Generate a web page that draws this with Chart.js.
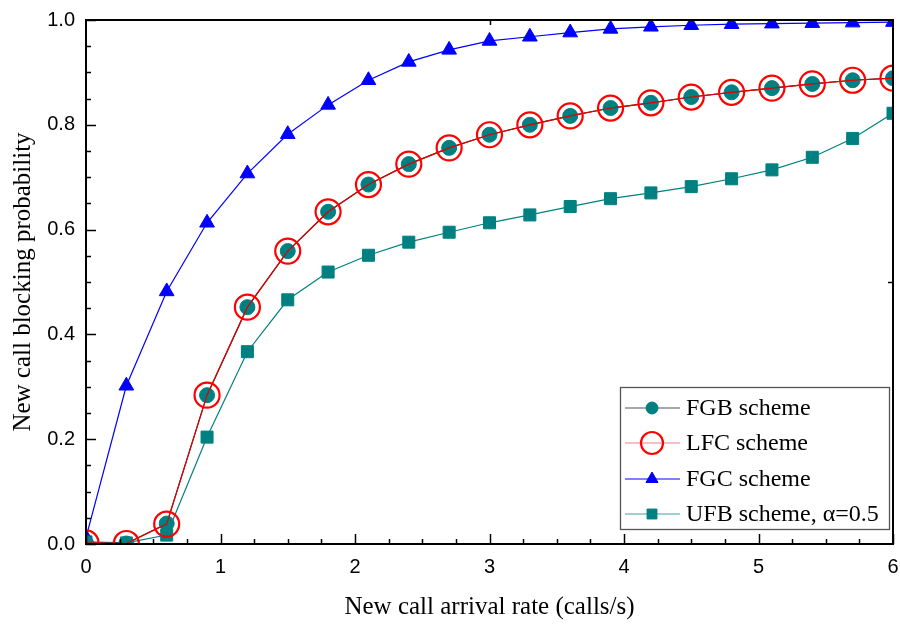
<!DOCTYPE html>
<html>
<head>
<meta charset="utf-8">
<script src="https://cdn.jsdelivr.net/npm/chart.js@4.4.1/dist/chart.umd.min.js"></script>
<style>
  html, body { margin: 0; padding: 0; background: #ffffff; }
  #wrap { width: 900px; height: 624px; position: relative; }
</style>
</head>
<body>
<div id="wrap"><canvas id="c" width="900" height="624"></canvas></div>
<script>
// ---- data ----
const arrivalRates = [0, 0.3, 0.6, 0.9, 1.2, 1.5, 1.8, 2.1, 2.4, 2.7, 3.0, 3.3, 3.6, 3.9, 4.2, 4.5, 4.8, 5.1, 5.4, 5.7, 6.0];
const fgbValues = [0.002, 0.001, 0.039, 0.284, 0.452, 0.559, 0.634, 0.686, 0.725, 0.756, 0.781, 0.800, 0.817, 0.832, 0.842, 0.853, 0.862, 0.870, 0.878, 0.885, 0.889];
const lfcValues = [0.002, 0.001, 0.038, 0.284, 0.452, 0.559, 0.634, 0.686, 0.725, 0.756, 0.781, 0.800, 0.817, 0.832, 0.842, 0.853, 0.862, 0.870, 0.878, 0.885, 0.889];
const fgcValues = [0.012, 0.302, 0.482, 0.613, 0.707, 0.782, 0.838, 0.885, 0.920, 0.943, 0.960, 0.968, 0.976, 0.983, 0.987, 0.990, 0.992, 0.993, 0.994, 0.995, 0.996];
const ufbValues = [0.004, 0.002, 0.017, 0.204, 0.367, 0.466, 0.519, 0.551, 0.576, 0.595, 0.613, 0.628, 0.644, 0.659, 0.670, 0.682, 0.697, 0.714, 0.738, 0.774, 0.822];
const xTickValues = [0, 1, 2, 3, 4, 5, 6];
const yTickValues = [0.0, 0.2, 0.4, 0.6, 0.8, 1.0];
const seriesNames = ['FGB scheme', 'LFC scheme', 'FGC scheme', 'UFB scheme, \u03b1=0.5'];
const xTitle = 'New call arrival rate (calls/s)';
const yTitle = 'New call blocking probability';

const toPts = (vals) => arrivalRates.map((x, i) => ({ x: x, y: vals[i] }));

const TEAL = '#008080';
const SERIF = '"Liberation Serif", "Times New Roman", serif';
const SANS = '"Liberation Sans", Arial, sans-serif';

// frame + inward ticks
const framePlugin = {
  id: 'frame',
  afterDatasetsDraw(chart) {
    const { ctx, chartArea: a, scales: { x, y } } = chart;
    ctx.save();
    ctx.strokeStyle = '#000';
    ctx.lineWidth = 1.5;
    for (let v = 0; v <= 6.0001; v += 0.25) {
      const px = Math.round(x.getPixelForValue(v)) + 0.5;
      const major = Math.abs(v - Math.round(v)) < 1e-6;
      ctx.beginPath();
      ctx.moveTo(px, a.bottom);
      ctx.lineTo(px, a.bottom - (major ? 10 : 5));
      ctx.stroke();
    }
    for (let v = 0; v <= 1.0001; v += 0.05) {
      const py = Math.round(y.getPixelForValue(v)) + 0.5;
      const major = Math.abs(v * 5 - Math.round(v * 5)) < 1e-6;
      ctx.beginPath();
      ctx.moveTo(a.left, py);
      ctx.lineTo(a.left + (major ? 10 : 5), py);
      ctx.stroke();
    }
    [3].forEach(v => {
      const px = Math.round(x.getPixelForValue(v)) + 0.5;
      ctx.beginPath(); ctx.moveTo(px, a.top); ctx.lineTo(px, a.top + 5); ctx.stroke();
    });
    [0.5].forEach(v => {
      const py = Math.round(y.getPixelForValue(v)) + 0.5;
      ctx.beginPath(); ctx.moveTo(a.right, py); ctx.lineTo(a.right - 5, py); ctx.stroke();
    });
    ctx.lineWidth = 2;
    ctx.strokeRect(a.left, a.top, a.right - a.left, a.bottom - a.top);
    ctx.restore();
  }
};

// custom legend box drawn from dataset styles
const legendPlugin = {
  id: 'boxLegend',
  afterDraw(chart) {
    const { ctx } = chart;
    const x0 = 620.5, y0 = 387.5, w = 269, h = 142;
    ctx.save();
    ctx.fillStyle = '#fff';
    ctx.fillRect(x0, y0, w, h);
    ctx.strokeStyle = '#555';
    ctx.lineWidth = 1.3;
    ctx.strokeRect(x0, y0, w, h);
    const rows = [408, 443, 479, 514];
    [0, 1, 2, 3].forEach((di, i) => {
      const ds = chart.data.datasets[di];
      const yy = rows[i];
      ctx.strokeStyle = ds.legendLine || ds.borderColor;
      ctx.lineWidth = 1.2;
      ctx.beginPath(); ctx.moveTo(625, yy); ctx.lineTo(680, yy); ctx.stroke();
      ctx.fillStyle = ds.pointBackgroundColor;
      ctx.strokeStyle = ds.pointBorderColor;
      ctx.lineWidth = ds.pointBorderWidth || 1;
      Chart.helpers.drawPoint(ctx, {
        pointStyle: ds.pointStyle, rotation: 0,
        radius: ds.legendRadius || ds.pointRadius,
        borderWidth: ds.pointBorderWidth || 1
      }, 652, yy);
      ctx.fillStyle = '#000';
      ctx.font = '24px ' + SERIF;
      ctx.textBaseline = 'middle';
      ctx.textAlign = 'left';
      ctx.fillText(seriesNames[di], 686, yy + 1);
    });
    ctx.restore();
  }
};

new Chart(document.getElementById('c'), {
  type: 'line',
  data: {
    datasets: [
      {
        label: seriesNames[0], data: toPts(fgbValues), order: 1,
        borderColor: '#2a2a2a', borderWidth: 1.2, legendLine: '#555',
        pointStyle: 'circle', pointRadius: 7.5, legendRadius: 6,
        pointBackgroundColor: TEAL, pointBorderColor: TEAL, pointBorderWidth: 1
      },
      {
        label: seriesNames[1], data: toPts(lfcValues), order: 0,
        borderColor: '#e00000', borderWidth: 1.2, legendLine: '#f08080',
        pointStyle: 'circle', pointRadius: 12.5, legendRadius: 11,
        pointBackgroundColor: 'rgba(0,0,0,0)', pointBorderColor: '#ff0000', pointBorderWidth: 2.2
      },
      {
        label: seriesNames[2], data: toPts(fgcValues), order: 2,
        borderColor: '#0000ff', borderWidth: 1.2,
        pointStyle: 'triangle', pointRadius: 8.5, legendRadius: 7,
        pointBackgroundColor: '#0000ff', pointBorderColor: '#0000ff', pointBorderWidth: 1
      },
      {
        label: seriesNames[3], data: toPts(ufbValues), order: 3,
        borderColor: TEAL, borderWidth: 1.2, legendLine: '#40a0a0',
        pointStyle: 'rect', pointRadius: 8.5, legendRadius: 7,
        pointBackgroundColor: TEAL, pointBorderColor: TEAL, pointBorderWidth: 1
      }
    ]
  },
  options: {
    responsive: false,
    animation: false,
    devicePixelRatio: 1,
    layout: { autoPadding: false, padding: { top: 20, right: 7, left: 0, bottom: 0 } },
    elements: { line: { tension: 0 } },
    plugins: { legend: { display: false }, tooltip: { enabled: false } },
    scales: {
      x: {
        type: 'linear', min: 0, max: 6,
        afterFit(s) { s.height = 80; s.paddingLeft = 0; s.paddingRight = 0; },
        afterBuildTicks(s) { s.ticks = xTickValues.map(v => ({ value: v })); },
        grid: { display: false, drawTicks: false },
        border: { display: false },
        ticks: {
          padding: 11, color: '#000', maxRotation: 0,
          font: { family: SANS, size: 20 },
          callback: (v) => String(v)
        },
        title: {
          display: true, text: xTitle, color: '#000',
          font: { family: SERIF, size: 25 },
          padding: { top: 0, bottom: 2 }
        }
      },
      y: {
        type: 'linear', min: 0, max: 1,
        afterFit(s) { s.width = 86; s.paddingTop = 0; s.paddingBottom = 0; },
        afterBuildTicks(s) { s.ticks = yTickValues.map(v => ({ value: v })); },
        grid: { display: false, drawTicks: false },
        border: { display: false },
        ticks: {
          padding: 11, color: '#000',
          font: { family: SANS, size: 20 },
          callback: (v) => Number(v).toFixed(1)
        },
        title: {
          display: true, text: yTitle, color: '#000',
          font: { family: SERIF, size: 25 },
          padding: { top: 8, bottom: 0 }
        }
      }
    }
  },
  plugins: [framePlugin, legendPlugin]
});
</script>
</body>
</html>
